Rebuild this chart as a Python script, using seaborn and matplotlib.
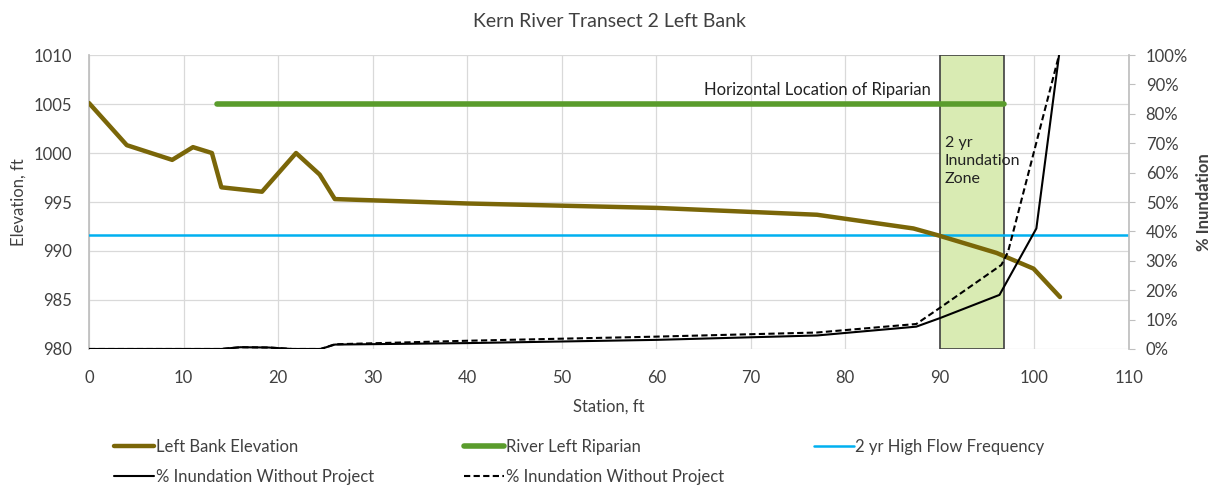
import matplotlib
matplotlib.use("Agg")
import matplotlib.pyplot as plt
from matplotlib.ticker import PercentFormatter
import seaborn as sns
import pandas as pd

# Left bank cross-section profile
bank_station = [0, 4.0, 8.8, 11.0, 13.0, 14.0, 18.3, 21.9, 24.4, 26.0, 40, 60, 77.0, 87.2, 89.8, 96.0, 99.9, 102.7]
bank_elev = [1005.1, 1000.8, 999.3, 1000.6, 1000.0, 996.5, 996.05, 1000.0, 997.8, 995.3,
             994.85, 994.4, 993.7, 992.3, 991.6, 989.8, 988.2, 985.3]

# Riparian extent
riparian_station = [13.5, 96.8]
riparian_elev = [1005, 1005]

# 2 yr high flow water surface
flow_station = [0, 110]
flow_elev = [991.6, 991.6]

# Percent inundation curves
inund_station_a = [0, 14, 16, 19, 21.5, 24.5, 26, 40, 60, 77, 87.5, 90, 96.3, 100.2, 102.6]
inund_pct_a = [0, 0, 0.6, 0.5, 0, 0, 1.5, 2.0, 3.1, 4.6, 7.6, 10.5, 18.4, 41, 100]
inund_station_b = [0, 14, 16, 19, 21.5, 24.5, 26, 40, 60, 77, 87.5, 90, 96.5, 97.2, 102.6]
inund_pct_b = [0, 0, 0.6, 0.5, 0, 0, 1.6, 2.8, 4.2, 5.6, 8.5, 14, 28.6, 33, 100]

# 2 yr inundation zone
zone_start, zone_end = 90, 96.8

x_ticks = list(range(0, 111, 10))
elev_ticks = list(range(980, 1011, 5))
pct_ticks = [i / 100 for i in range(0, 101, 10)]

sns.set_theme(style="white")
plt.rcParams["font.family"] = ["Lato", "DejaVu Sans"]

fig = plt.figure(figsize=(12.24, 4.87), dpi=100)
ax = fig.add_axes([0.0727, 0.2834, 0.8497, 0.6036])
ax2 = ax.twinx()

bank_df = pd.DataFrame({"station": bank_station, "elev": bank_elev})
rip_df = pd.DataFrame({"station": riparian_station, "elev": riparian_elev})
flow_df = pd.DataFrame({"station": flow_station, "elev": flow_elev})
ia_df = pd.DataFrame({"station": inund_station_a, "pct": [p / 100 for p in inund_pct_a]})
ib_df = pd.DataFrame({"station": inund_station_b, "pct": [p / 100 for p in inund_pct_b]})

ax.axvspan(zone_start, zone_end, facecolor="#d9ebb3", edgecolor="#3f3f3f", lw=1.2, zorder=1)

sns.lineplot(data=flow_df, x="station", y="elev", ax=ax, color="#00b0f0", lw=1.8,
             label="2 yr High Flow Frequency", zorder=3, legend=False)
sns.lineplot(data=rip_df, x="station", y="elev", ax=ax, color="#5a9c2c", lw=4,
             label="River Left Riparian", zorder=3, legend=False, solid_capstyle="round")
sns.lineplot(data=bank_df, x="station", y="elev", ax=ax, color="#7a6608", lw=3.2,
             label="Left Bank Elevation", zorder=4, legend=False)

sns.lineplot(data=ia_df, x="station", y="pct", ax=ax2, color="black", lw=1.5,
             label="% Inundation Without Project", legend=False)
sns.lineplot(data=ib_df, x="station", y="pct", ax=ax2, color="black", lw=1.5,
             label="% Inundation Without Project", legend=False, dashes=False)
ax2.lines[-1].set_linestyle((0, (3, 1.6)))

ax.text(89, 1005.6, "Horizontal Location of Riparian", ha="right", va="bottom",
        fontsize=12, color="#222222", zorder=5)
ax.text(90.5, 1001.7, "2 yr\nInundation\nZone", ha="left", va="top",
        fontsize=11.5, color="#222222", linespacing=1.35, zorder=5)

ax.set_xlim(0, 110)
ax.set_ylim(980, 1010)
ax2.set_ylim(0, 1)
ax.set_xticks(x_ticks)
ax.set_yticks(elev_ticks)
ax2.set_yticks(pct_ticks)
ax2.yaxis.set_major_formatter(PercentFormatter(1.0, decimals=0))

ax.grid(True, color="#d9d9d9", lw=0.9)
ax.set_axisbelow(True)
for sp in ["top", "bottom"]:
    ax.spines[sp].set_visible(False)
    ax2.spines[sp].set_visible(False)
ax.spines["left"].set_color("#bfbfbf")
ax.spines["right"].set_visible(False)
ax2.spines["left"].set_visible(False)
ax2.spines["right"].set_color("#bfbfbf")

ax.tick_params(axis="x", labelsize=12, colors="#404040", length=0, pad=15)
ax.tick_params(axis="y", labelsize=12, colors="#404040", length=0, pad=12)
ax2.tick_params(axis="y", labelsize=12, colors="#404040", length=4, width=0.8,
                direction="out", pad=8)
ax2.tick_params(axis="y", color="#bfbfbf")

ax.set_xlabel("Station, ft", fontsize=12, color="#404040", labelpad=9)
ax.set_ylabel("Elevation, ft", fontsize=12, color="#404040", labelpad=5)
ax2.set_ylabel("% Inundation", fontsize=12, color="#404040", fontweight="bold", labelpad=6)
ax.set_title("Kern River Transect 2 Left Bank", fontsize=14, color="#404040", pad=20)

h1, l1 = ax.get_legend_handles_labels()
h2, l2 = ax2.get_legend_handles_labels()
hd = dict(zip(l1, h1))
order = [hd["Left Bank Elevation"], h2[0], hd["River Left Riparian"], h2[1], hd["2 yr High Flow Frequency"]]
labels = ["Left Bank Elevation", "% Inundation Without Project", "River Left Riparian",
          "% Inundation Without Project", "2 yr High Flow Frequency"]
leg = fig.legend(order, labels, ncol=3, loc="lower left", bbox_to_anchor=(0.081, -0.027),
                 frameon=False, fontsize=12, handlelength=2.4, handletextpad=0.1,
                 columnspacing=5.4, labelspacing=0.85)
for t in leg.get_texts():
    t.set_color("#404040")

fig.savefig("out.png", dpi=100)
